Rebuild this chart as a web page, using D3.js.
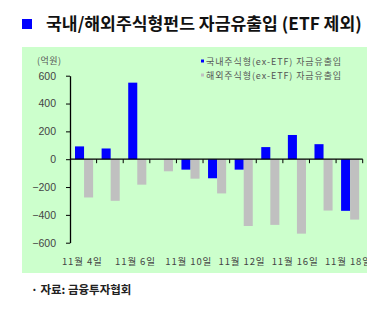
<!DOCTYPE html>
<html><head><meta charset="utf-8">
<script src="https://cdn.jsdelivr.net/npm/d3@7"></script>
<style>body{margin:0;background:#fff;}svg{display:block;}</style>
</head><body>
<script>
const dates = ["11월 4일","11월 5일","11월 6일","11월 9일","11월 10일","11월 11일","11월 12일","11월 13일","11월 16일","11월 17일","11월 18일"];
const domestic = [92, 77, 550, 0, -75, -137, -75, 87, 174, 108, -371];
const overseas = [-275, -299, -183, -87, -140, -246, -480, -472, -535, -369, -434];
const seriesNames = ["국내주식형(ex-ETF) 자금유출입", "해외주식형(ex-ETF) 자금유출입"];
const yTicks = [600, 400, 200, 0, -200, -400, -600];

const W = 383, H = 324;
const svg = d3.select("body").append("svg").attr("width", W).attr("height", H);
const font = "'Noto Sans CJK KR','Noto Sans',sans-serif";

svg.append("defs").append("clipPath").attr("id", "panelClip")
  .append("rect").attr("x", 22).attr("y", 47).attr("width", 345).attr("height", 226);

// title
svg.append("rect").attr("x", 22).attr("y", 19).attr("width", 10).attr("height", 10).attr("fill", "#0000ff");
svg.append("text").attr("x", 46).attr("y", 30).attr("font-family", font).attr("font-weight", "bold")
  .attr("font-size", 17.2).attr("fill", "#111").text("국내/해외주식형펀드 자금유출입 (ETF 제외)");

// panel
svg.append("rect").attr("x", 22).attr("y", 47).attr("width", 345).attr("height", 226).attr("fill", "#ccffcc");

const x0 = d3.scaleBand().domain(dates).range([70, 362.7]).paddingInner(0).paddingOuter(0);
const x1 = d3.scaleBand().domain([0, 1]).range([5, x0.bandwidth() - 3.5]);
const y = d3.scaleLinear().domain([-600, 600]).range([242.7, 75.7]);

const colors = ["#0000ff", "#c0c0c0"];
const data = [domestic, overseas];
data.forEach((vals, si) => {
  svg.append("g").selectAll("rect").data(vals).join("rect")
    .attr("x", (d, i) => x0(dates[i]) + x1(si))
    .attr("width", x1.bandwidth())
    .attr("y", d => y(Math.max(0, d)))
    .attr("height", d => Math.abs(y(d) - y(0)))
    .attr("fill", colors[si]);
});

// y axis
const yAxis = d3.axisLeft(y).tickValues(yTicks).tickSize(4).tickSizeOuter(0)
  .tickFormat(d => d < 0 ? "−" + Math.abs(d) : d);
const gy = svg.append("g").attr("transform", "translate(70,0)").call(yAxis);
gy.select(".domain").attr("stroke", "#000").attr("stroke-width", 1.3);
gy.selectAll(".tick line").attr("stroke", "#000");
gy.selectAll("text").attr("font-family", "'Liberation Sans',Arial,sans-serif").attr("font-size", 10.5)
  .attr("fill", "#444").attr("x", -14);

// x axis at zero
const gx = svg.append("g").attr("transform", `translate(0,${y(0)})`);
gx.append("line").attr("x1", 70).attr("x2", 362.7).attr("y1", 0).attr("y2", 0).attr("stroke", "#000").attr("stroke-width", 1.3);
const bounds = dates.map(d => x0(d) + x0.bandwidth());
gx.selectAll("line.tk").data(bounds).join("line").attr("class", "tk")
  .attr("x1", d => d).attr("x2", d => d).attr("y1", 0).attr("y2", 4).attr("stroke", "#000");

// x labels (every other), clipped by the panel
svg.append("g").attr("clip-path", "url(#panelClip)").selectAll("text")
  .data(dates.filter((d, i) => i % 2 === 0)).join("text")
  .attr("x", d => x0(d) + x0.bandwidth() / 2 - 1).attr("y", 265)
  .attr("text-anchor", "middle").attr("font-family", font).attr("font-size", 9.5).attr("fill", "#444")
  .attr("letter-spacing", 0.9)
  .text(d => d);

// unit
svg.append("text").attr("x", 37).attr("y", 63.5).attr("font-family", font).attr("font-size", 9)
  .attr("fill", "#555").attr("letter-spacing", 0.5).text("(억원)");

// legend
seriesNames.forEach((n, i) => {
  const ly = 62 + i * 14;
  svg.append("rect").attr("x", 201).attr("y", ly - 2.5).attr("width", 3).attr("height", 3).attr("fill", colors[i]);
  svg.append("text").attr("x", 206).attr("y", ly + 3.2).attr("font-family", font).attr("font-size", 9)
    .attr("fill", "#555").attr("letter-spacing", 0.9).text(n);
});

// source
svg.append("text").attr("x", 31).attr("y", 293.5).attr("font-family", font).attr("font-size", 11.5)
  .attr("font-weight", "bold").attr("fill", "#222").text("· 자료: 금융투자협회");
</script>
</body></html>
